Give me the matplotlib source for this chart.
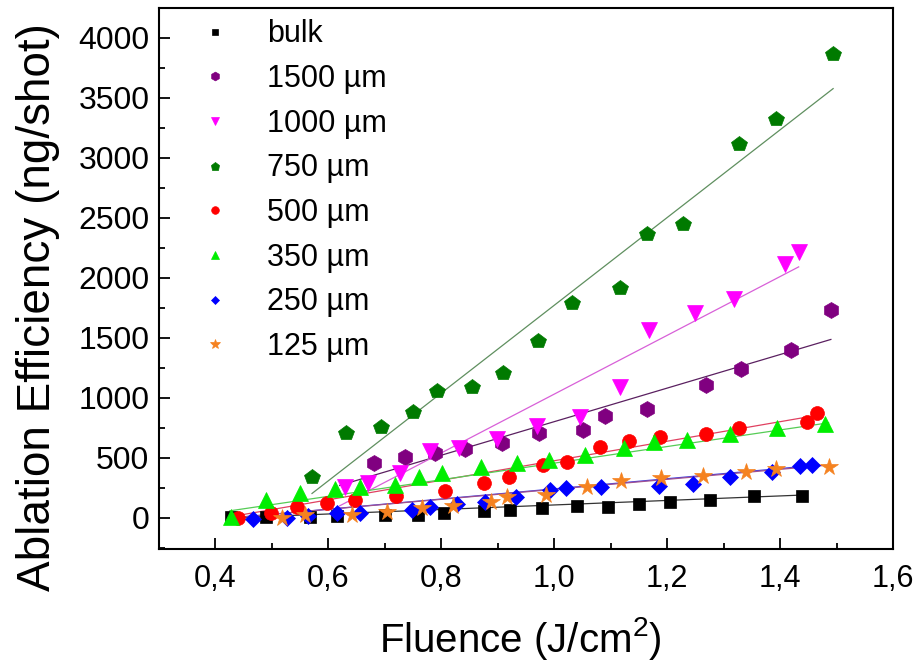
import matplotlib
matplotlib.use("Agg")
import matplotlib.pyplot as plt
from matplotlib.ticker import MultipleLocator, FixedLocator, FixedFormatter

plt.rcParams['font.family'] = ['Liberation Sans', 'DejaVu Sans']
plt.rcParams['mathtext.default'] = 'regular'

# ---------------- data ----------------
labels = ["bulk", "1500 µm", "1000 µm", "750 µm", "500 µm", "350 µm", "250 µm", "125 µm"]

bulk_x = [0.427, 0.490, 0.567, 0.615, 0.700, 0.759, 0.804, 0.875, 0.922, 0.979, 1.041, 1.095, 1.151, 1.205, 1.276, 1.354, 1.439]
bulk_y = [3, 3, 8, 14, 22, 22, 42, 58, 64, 83, 97, 92, 114, 128, 147, 181, 185]

p1500_x = [0.680, 0.736, 0.789, 0.842, 0.907, 0.973, 1.051, 1.090, 1.164, 1.268, 1.330, 1.419, 1.490]
p1500_y = [453, 508, 542, 572, 625, 703, 731, 847, 911, 1106, 1239, 1397, 1731]

p1000_x = [0.629, 0.671, 0.727, 0.780, 0.832, 0.898, 0.970, 1.045, 1.117, 1.167, 1.250, 1.318, 1.408, 1.433]
p1000_y = [258, 287, 372, 556, 582, 656, 768, 842, 1092, 1564, 1710, 1828, 2120, 2217]

p750_x = [0.571, 0.632, 0.694, 0.749, 0.792, 0.855, 0.910, 0.971, 1.031, 1.116, 1.164, 1.228, 1.328, 1.393, 1.494]
p750_y = [342, 706, 756, 883, 1058, 1092, 1208, 1475, 1792, 1920, 2370, 2447, 3114, 3328, 3864]

p500_x = [0.440, 0.498, 0.545, 0.598, 0.647, 0.720, 0.807, 0.876, 0.920, 0.980, 1.022, 1.081, 1.132, 1.188, 1.268, 1.328, 1.448, 1.466]
p500_y = [0, 42, 92, 125, 148, 178, 225, 292, 342, 439, 467, 592, 642, 675, 698, 745, 800, 870]

p350_x = [0.427, 0.490, 0.549, 0.611, 0.656, 0.718, 0.761, 0.802, 0.870, 0.934, 0.990, 1.055, 1.123, 1.176, 1.235, 1.312, 1.395, 1.480]
p350_y = [8, 148, 203, 237, 258, 273, 342, 375, 425, 453, 481, 522, 578, 633, 648, 698, 750, 778]

p250_x = [0.467, 0.526, 0.564, 0.616, 0.656, 0.748, 0.780, 0.827, 0.878, 0.932, 0.992, 1.020, 1.083, 1.185, 1.246, 1.312, 1.385, 1.436, 1.457]
p250_y = [-13, -5, 14, 37, 42, 64, 92, 114, 135, 175, 231, 245, 253, 264, 286, 342, 383, 430, 439]

p125_x = [0.517, 0.558, 0.641, 0.703, 0.765, 0.821, 0.888, 0.916, 0.986, 1.058, 1.119, 1.190, 1.263, 1.340, 1.393, 1.486]
p125_y = [-5, 22, 22, 46, 78, 97, 135, 170, 189, 253, 306, 328, 347, 383, 411, 420]

# linear fit lines: start / end fluence and efficiency
fit_x0 = [0.43, 0.62, 0.62, 0.571, 0.44, 0.425, 0.43, 0.43]
fit_y0 = [0, 270, 100, 203, 20, 58, 0, 0]
fit_x1 = [1.44, 1.49, 1.433, 1.494, 1.466, 1.486, 1.469, 1.486]
fit_y1 = [190, 1487, 2092, 3578, 855, 792, 440, 440]

x_ticks = [0.4, 0.6, 0.8, 1.0, 1.2, 1.4, 1.6]
x_tick_labels = ["0,4", "0,6", "0,8", "1,0", "1,2", "1,4", "1,6"]
y_ticks = [0, 500, 1000, 1500, 2000, 2500, 3000, 3500, 4000]

# ---------------- styles ----------------
xs = [bulk_x, p1500_x, p1000_x, p750_x, p500_x, p350_x, p250_x, p125_x]
ys = [bulk_y, p1500_y, p1000_y, p750_y, p500_y, p350_y, p250_y, p125_y]
markers = ['s', 'h', 'v', 'p', 'o', '^', 'D', '*']
msizes = [9, 11.5, 11, 11.5, 10, 11, 8.2, 13]
colors = ['#000000', '#800080', '#ff00ff', '#007a00', '#ff0000', '#00ee00', '#0000ff', '#f58220']
line_colors = ['#333333', '#5a2060', '#d860d8', '#5f8f5f', '#e04060', '#55cc55', '#4040e0', '#a05090']

fig = plt.figure(figsize=(9.17, 6.67), dpi=100)
ax = fig.add_axes([0.1734, 0.1769, 0.8004, 0.8111])

for i in range(len(labels)):
    ax.plot([fit_x0[i], fit_x1[i]], [fit_y0[i], fit_y1[i]], '-', color=line_colors[i],
            lw=0.9, zorder=2)
for i in range(len(labels)):
    ax.plot(xs[i], ys[i], linestyle='none', marker=markers[i], ms=msizes[i],
            color=colors[i], mec=colors[i], mew=0.5, label=labels[i], zorder=3 + i * 0.1)

ax.set_xlim(0.3, 1.6)
ax.set_ylim(-260, 4250)

ax.xaxis.set_major_locator(FixedLocator(x_ticks))
ax.xaxis.set_major_formatter(FixedFormatter(x_tick_labels))
ax.xaxis.set_minor_locator(MultipleLocator(0.1))
ax.yaxis.set_major_locator(FixedLocator(y_ticks))
ax.yaxis.set_minor_locator(MultipleLocator(250))

ax.tick_params(which='both', direction='in', top=False, right=False, width=1.3)
ax.tick_params(which='major', length=8)
ax.tick_params(which='minor', length=4.5)
ax.tick_params(axis='y', labelsize=23, pad=7)
ax.tick_params(axis='x', labelsize=22, pad=11)

for sp in ax.spines.values():
    sp.set_linewidth(1.5)

ax.set_ylabel("Ablation Efficiency (ng/shot)", fontsize=33)
ax.yaxis.set_label_coords(-0.135, 0.447)
ax.set_xlabel("Fluence (J/cm$^2$)", fontsize=29)
ax.xaxis.set_label_coords(0.493, -0.122)

leg = ax.legend(loc='upper left', bbox_to_anchor=(0.056, 0.979), frameon=False,
                fontsize=22, markerscale=0.55, handlelength=1.0, handletextpad=1.2,
                labelspacing=0.48, borderpad=0, borderaxespad=0)

fig.savefig("out.png", dpi=100)
